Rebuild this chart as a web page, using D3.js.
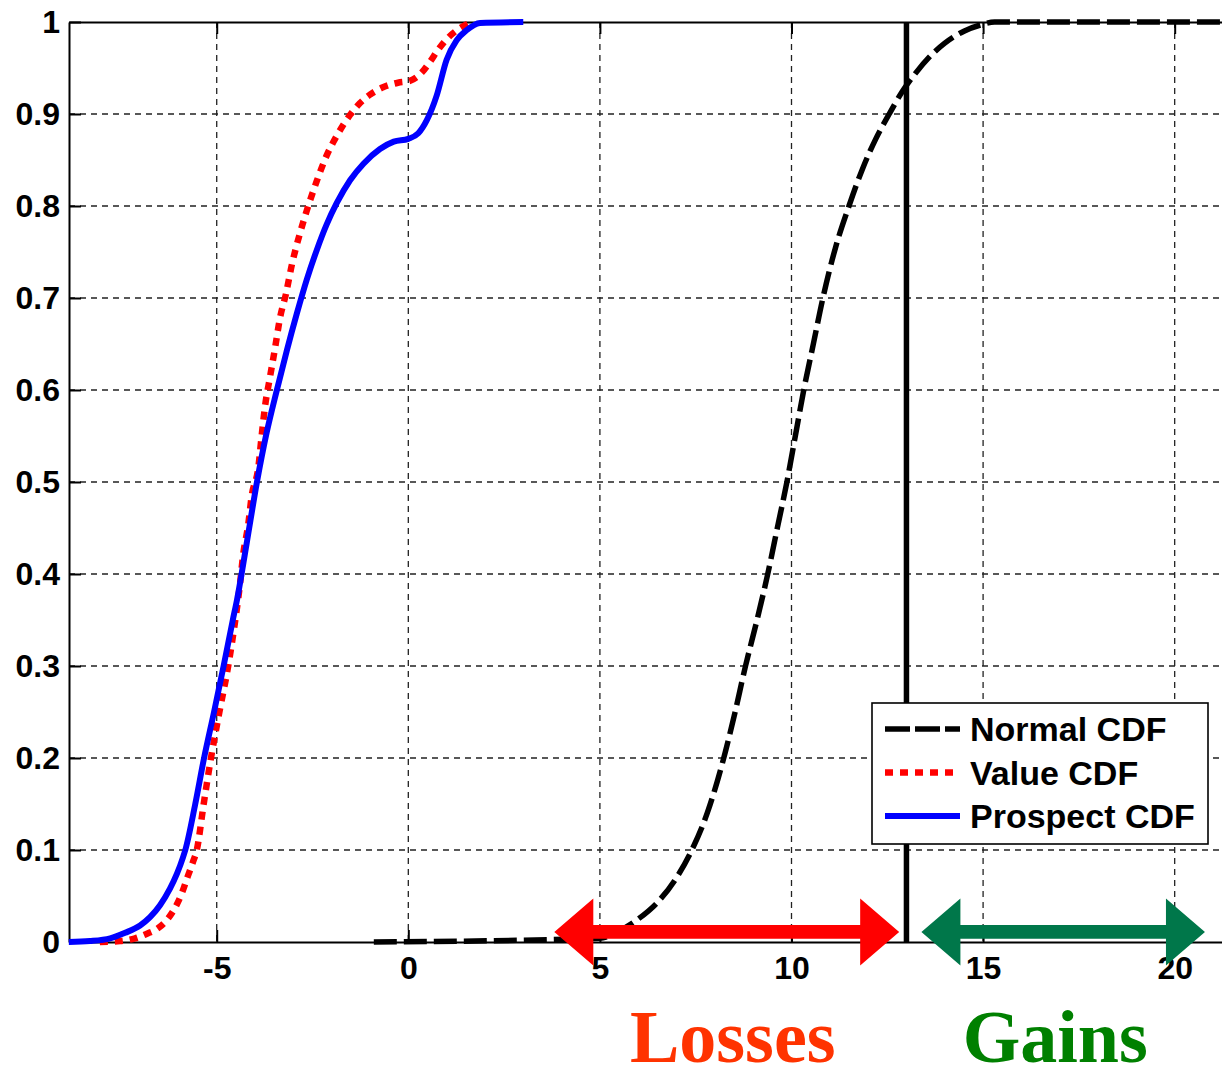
<!DOCTYPE html>
<html>
<head>
<meta charset="utf-8">
<script src="https://d3js.org/d3.v7.min.js"></script>
<style>
  body { margin: 0; background: #fff; }
</style>
</head>
<body>
<script>
/* chart data */
var xTicks = [-5, 0, 5, 10, 15, 20];
var yTicks = [0, 0.1, 0.2, 0.3, 0.4, 0.5, 0.6, 0.7, 0.8, 0.9, 1];

var normalX = [-0.9, 5.0, 5.5, 6.0, 6.5, 7.0, 7.4, 7.8, 8.2, 8.5, 8.8, 9.1, 9.38, 9.63, 9.88, 10.1, 10.32, 10.57, 10.82, 11.15, 11.5, 11.85, 12.2, 12.55, 12.9, 13.25, 13.6, 14.0, 14.5, 14.95, 15.3, 21.3];
var normalF = [0, 0.004, 0.012, 0.025, 0.043, 0.07, 0.1, 0.14, 0.195, 0.245, 0.3, 0.35, 0.4, 0.45, 0.5, 0.55, 0.6, 0.65, 0.7, 0.755, 0.8, 0.84, 0.873, 0.9, 0.925, 0.945, 0.962, 0.977, 0.99, 0.997, 1, 1];

var valueX = [-8.05, -7.52, -7.13, -6.82, -6.53, -6.3, -6.09, -5.91, -5.75, -5.62, -5.52, -5.34, -5.15, -4.93, -4.7, -4.55, -4.39, -4.31, -4.18, -4.09, -3.91, -3.83, -3.74, -3.61, -3.48, -3.35, -3.19, -3.04, -2.83, -2.65, -2.39, -2.13, -1.87, -1.52, -1.26, -1.0, -0.66, -0.27, 0.04, 0.35, 0.57, 0.78, 1.04, 1.3, 1.65];
var valueF = [0, 0.001, 0.004, 0.009, 0.015, 0.024, 0.037, 0.053, 0.072, 0.087, 0.1, 0.15, 0.2, 0.25, 0.3, 0.34, 0.39, 0.421, 0.453, 0.484, 0.517, 0.549, 0.582, 0.614, 0.645, 0.678, 0.705, 0.736, 0.77, 0.795, 0.827, 0.855, 0.876, 0.899, 0.912, 0.921, 0.929, 0.934, 0.936, 0.945, 0.957, 0.97, 0.983, 0.992, 1.0];

var prospectX = [-8.86, -8.31, -7.78, -7.39, -7.0, -6.74, -6.48, -6.22, -6.04, -5.88, -5.82, -5.56, -5.33, -5.07, -4.82, -4.58, -4.47, -4.22, -3.95, -3.7, -3.43, -3.17, -2.91, -2.65, -2.39, -2.13, -1.87, -1.52, -1.17, -0.74, -0.38, 0, 0.26, 0.48, 0.74, 1.0, 1.26, 1.52, 1.87, 3.0];
var prospectF = [0, 0.001, 0.004, 0.01, 0.018, 0.027, 0.04, 0.058, 0.074, 0.092, 0.1, 0.15, 0.2, 0.25, 0.3, 0.35, 0.372, 0.433, 0.5, 0.553, 0.6, 0.643, 0.683, 0.72, 0.752, 0.78, 0.803, 0.828, 0.846, 0.862, 0.87, 0.873, 0.879, 0.893, 0.92, 0.959, 0.98, 0.991, 0.999, 1];

var threshold = 13;
var legendNames = ["Normal CDF", "Value CDF", "Prospect CDF"];
/* double arrows under the axis: [from, to] in x units */
var lossRange = [3.81, 12.81];
var gainRange = [13.39, 20.79];

drawChart();

function drawChart(){
    var width = 1222, height = 1070;
    var pLeft = 69, pRight = 1224.5, pTop = 22, pBottom = 942;

    var svg = d3.select("body").append("svg")
	.attr("width", width)
	.attr("height", height)
	.style("font-family", "'Liberation Sans', Arial, sans-serif");

    var x = d3.scaleLinear().domain([-8.855, 21.3]).range([pLeft, pRight]);
    var y = d3.scaleLinear().domain([0, 1]).range([pBottom, pTop]);

    /* grid */
    svg.append("g").selectAll("line")
	.data(xTicks)
	.join("line")
	.attr("x1", function(d) { return x(d); })
	.attr("x2", function(d) { return x(d); })
	.attr("y1", pTop)
	.attr("y2", pBottom)
	.attr("stroke", "#222")
	.attr("stroke-width", 1.3)
	.attr("stroke-dasharray", "6,5");

    svg.append("g").selectAll("line")
	.data(yTicks.slice(1, -1))
	.join("line")
	.attr("x1", pLeft)
	.attr("x2", pRight)
	.attr("y1", function(d) { return y(d); })
	.attr("y2", function(d) { return y(d); })
	.attr("stroke", "#222")
	.attr("stroke-width", 1.3)
	.attr("stroke-dasharray", "6,5");

    /* axes */
    var plain = function(d) { return String(d); };
    var xAxis = svg.append("g")
	.attr("transform", "translate(0," + pBottom + ")")
	.call(d3.axisBottom(x).tickValues(xTicks).tickSize(-12).tickPadding(14).tickSizeOuter(0).tickFormat(plain));
    var yAxis = svg.append("g")
	.attr("transform", "translate(" + pLeft + ",0)")
	.call(d3.axisLeft(y).tickValues(yTicks).tickSize(-12).tickPadding(9).tickSizeOuter(0).tickFormat(plain));
    var topAxis = svg.append("g")
	.attr("transform", "translate(0," + pTop + ")")
	.call(d3.axisTop(x).tickValues(xTicks).tickSize(-12).tickFormat("").tickSizeOuter(0));

    [xAxis, yAxis, topAxis].forEach(function(a) {
	a.select(".domain").attr("stroke", "#000").attr("stroke-width", 2);
	a.selectAll(".tick line").attr("stroke", "#000").attr("stroke-width", 2);
	a.selectAll("text")
	    .attr("font-family", "'Liberation Sans', Arial, sans-serif")
	    .attr("font-size", 32)
	    .attr("font-weight", "bold")
	    .attr("fill", "#000");
    });
    yAxis.selectAll("text").attr("x", -9);

    /* curves */
    var line = d3.line()
	.x(function(d) { return x(d[0]); })
	.y(function(d) { return y(d[1]); })
	.curve(d3.curveMonotoneX);

    svg.append("path")
	.datum(d3.zip(normalX, normalF))
	.attr("d", line)
	.attr("fill", "none")
	.attr("stroke", "#000")
	.attr("stroke-width", 5.5)
	.attr("stroke-dasharray", "23,7");

    svg.append("path")
	.datum(d3.zip(valueX, valueF))
	.attr("d", line)
	.attr("fill", "none")
	.attr("stroke", "#ff0000")
	.attr("stroke-width", 6.5)
	.attr("stroke-dasharray", "8,7");

    svg.append("path")
	.datum(d3.zip(prospectX, prospectF))
	.attr("d", line)
	.attr("fill", "none")
	.attr("stroke", "#0000ff")
	.attr("stroke-width", 6)
	.attr("stroke-linejoin", "round");

    /* threshold line */
    svg.append("line")
	.attr("x1", x(threshold))
	.attr("x2", x(threshold))
	.attr("y1", pTop)
	.attr("y2", pBottom)
	.attr("stroke", "#000")
	.attr("stroke-width", 5.5);

    /* legend */
    var legend = svg.append("g");
    legend.append("rect")
	.attr("x", 872)
	.attr("y", 703)
	.attr("width", 336)
	.attr("height", 141)
	.attr("fill", "#fff")
	.attr("stroke", "#000")
	.attr("stroke-width", 1.6);

    var legendStyles = [
	{color: "#000", dash: "25,5", w: 5.5},
	{color: "#ff0000", dash: "8,7", w: 6.5},
	{color: "#0000ff", dash: null, w: 6}
    ];
    legendNames.forEach(function(name, i) {
	var ly = 729 + i * 43.5;
	legend.append("line")
	    .attr("x1", 885)
	    .attr("x2", 960)
	    .attr("y1", ly)
	    .attr("y2", ly)
	    .attr("stroke", legendStyles[i].color)
	    .attr("stroke-width", legendStyles[i].w)
	    .attr("stroke-dasharray", legendStyles[i].dash);
	legend.append("text")
	    .attr("x", 970)
	    .attr("y", ly + 12)
	    .attr("font-size", 34)
	    .attr("font-weight", "bold")
	    .attr("fill", "#000")
	    .text(name);
    });

    /* double arrows */
    function doubleArrow(range, color) {
	var x0 = x(range[0]), x1 = x(range[1]), cy = y(0.011);
	var hl = 39, hh = 33.5, st = 6.8;
	var pts = [
	    [x0, cy], [x0 + hl, cy - hh], [x0 + hl, cy - st], [x1 - hl, cy - st],
	    [x1 - hl, cy - hh], [x1, cy], [x1 - hl, cy + hh], [x1 - hl, cy + st],
	    [x0 + hl, cy + st], [x0 + hl, cy + hh]
	];
	svg.append("path")
	    .attr("d", "M" + pts.join("L") + "Z")
	    .attr("fill", color);
    }
    doubleArrow(lossRange, "#ff0000");
    doubleArrow(gainRange, "#00774a");

    /* region labels */
    svg.append("text")
	.attr("x", x((lossRange[0] + lossRange[1]) / 2) + 6)
	.attr("y", 1062)
	.attr("text-anchor", "middle")
	.attr("font-family", "'Liberation Serif', 'Times New Roman', serif")
	.attr("font-weight", "bold")
	.attr("font-size", 74)
	.attr("fill", "#ff3300")
	.text("Losses");

    svg.append("text")
	.attr("x", x((gainRange[0] + gainRange[1]) / 2) - 8)
	.attr("y", 1062)
	.attr("text-anchor", "middle")
	.attr("font-family", "'Liberation Serif', 'Times New Roman', serif")
	.attr("font-weight", "bold")
	.attr("font-size", 74)
	.attr("fill", "#008000")
	.text("Gains");
}
</script>
</body>
</html>
